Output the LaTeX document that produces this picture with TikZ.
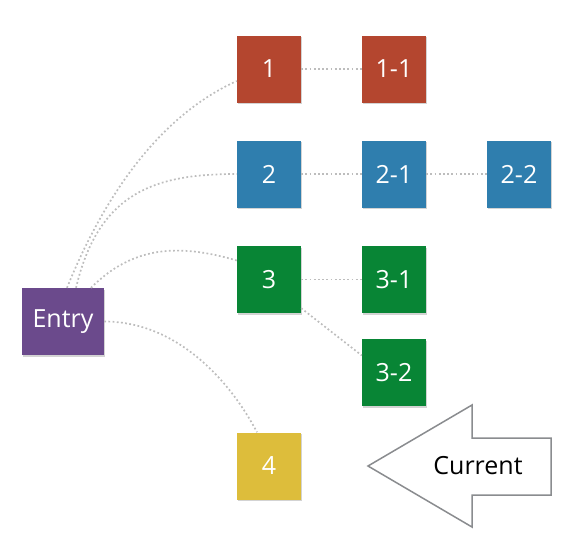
\documentclass[tikz,border=0pt]{standalone}
\usepackage{fontspec}
\setmainfont{Open Sans}
\usetikzlibrary{shadows}
\definecolor{tilered}{HTML}{B4462F}
\definecolor{tileblue}{HTML}{2F7EAE}
\definecolor{tilegreen}{HTML}{088535}
\definecolor{tilepurple}{HTML}{6B4A8C}
\definecolor{tileyellow}{HTML}{DDBD3B}
\definecolor{linkgray}{HTML}{BDBDBD}
\definecolor{arrowgray}{HTML}{8A8C8F}
\begin{document}
\begin{tikzpicture}[x=1pt,y=-1pt,font=\fontsize{25}{25}\selectfont,
  tile/.style={minimum width=64pt,minimum height=67pt,inner sep=0pt,text=white,
    drop shadow={shadow xshift=1.2pt,shadow yshift=-1.5pt,opacity=0.35}},
  link/.style={draw=linkgray,line width=1.7pt,dash pattern=on 1.8pt off 2.4pt}]
  \useasboundingbox (0,0) rectangle (585,544);
  \node[tile,fill=tilepurple,minimum width=82pt] (entry) at (63,321.5) {Entry};
  \node[tile,fill=tilered] (n1) at (269,69) {1};
  \node[tile,fill=tilered] (n11) at (394,69) {1-1};
  \node[tile,fill=tileblue] (n2) at (269,174) {2};
  \node[tile,fill=tileblue] (n21) at (394,174) {2-1};
  \node[tile,fill=tileblue] (n22) at (519,174) {2-2};
  \node[tile,fill=tilegreen] (n3) at (269,279.5) {3};
  \node[tile,fill=tilegreen] (n31) at (394,279.5) {3-1};
  \node[tile,fill=tilegreen] (n32) at (394,372.5) {3-2};
  \node[tile,fill=tileyellow] (n4) at (269,466) {4};
  \draw[link] ([xshift=4pt]entry.north) .. controls +(34,-84) and +(-82,37) .. ([yshift=-12pt]n1.west);
  \draw[link] ([xshift=13pt]entry.north) .. controls +(23,-97) and +(-80,0) .. (n2.west);
  \draw[link] ([xshift=28pt]entry.north) .. controls +(42,-42) and +(-58,-17) .. ([yshift=19pt]n3.west);
  \draw[link] (entry.east) .. controls +(75,0) and +(-25,-48) .. ([xshift=-12pt]n4.north);
  \draw[link] (n1.east) -- (n11.west);
  \draw[link] (n2.east) -- (n21.west);
  \draw[link] (n21.east) -- (n22.west);
  \draw[link] (n3.east) -- (n31.west);
  \draw[link] ([yshift=5pt]n3.south east) -- ([yshift=17pt]n32.west);
  \draw[arrowgray,fill=white,line width=1.5pt] (551,438) -- (472,438) -- (472,405) -- (368,466)
    -- (472,527) -- (472,495) -- (551,495) -- cycle;
  \node (cur) at (478,466) {Current};
\end{tikzpicture}
\end{document}
